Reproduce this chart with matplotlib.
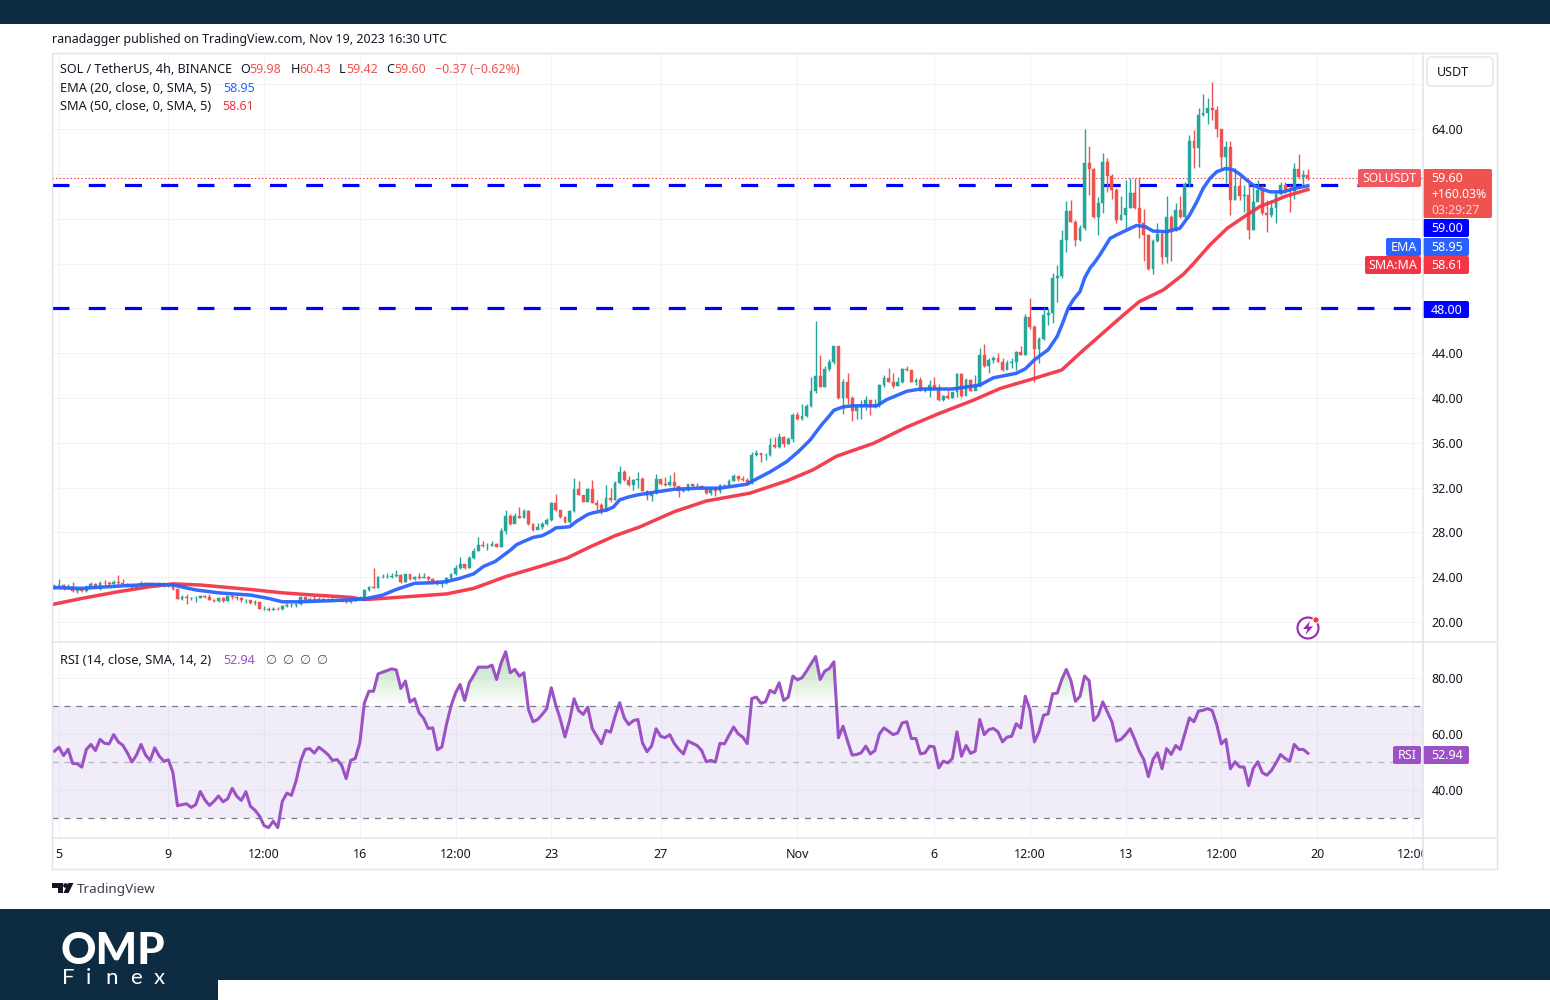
import numpy as np
import matplotlib
matplotlib.use("Agg")
import matplotlib.pyplot as plt
from matplotlib.patches import Rectangle, FancyBboxPatch, Circle, Polygon
from matplotlib.transforms import Bbox, TransformedBbox

plt.rcParams['font.family'] = ['Noto Sans', 'DejaVu Sans']
plt.rcParams['lines.scale_dashes'] = False

# ---------- data ----------
first_open = 23.1
closes = [23.2,23.3,23.0,23.15,22.75,22.85,22.8,23.15,23.35,23.15,23.5,23.45,23.4,23.55,23.45,23.4,23.25,23.05,23.25,23.45,
23.35,23.15,23.4,23.2,23.35,23.25,22.9,22.05,22.2,22.1,22.1,22.15,22.3,22.25,22.0,21.9,22.1,21.85,22.3,22.2,
22.1,21.95,21.95,21.7,21.75,21.2,21.2,21.1,21.2,21.15,21.4,21.5,21.5,21.6,22.2,22.0,22.05,22.0,22.05,22.0,
21.95,21.95,22.0,21.95,21.8,21.9,22.0,22.1,22.85,23.15,23.05,24.0,24.05,24.05,24.1,24.2,23.6,24.25,23.8,24.0,
23.95,24.05,23.8,23.7,23.35,23.45,23.9,24.29,24.8,25.18,24.8,25.7,26.3,26.9,26.8,26.8,27.0,26.7,28.1,29.5,
28.75,29.5,29.3,29.95,28.75,28.2,28.45,28.75,29.1,30.65,30.0,29.4,28.9,29.95,31.85,31.35,30.75,31.9,30.66,30.45,
30.0,31.05,30.9,32.45,33.4,32.7,32.2,32.7,32.8,31.7,31.25,31.55,32.75,32.3,32.2,32.5,32.1,31.7,31.75,32.3,
32.15,32.15,32.0,31.55,31.9,31.7,32.25,32.2,32.6,33.0,32.75,32.7,32.4,34.9,35.05,34.9,34.95,35.8,35.6,36.55,
35.9,36.3,38.5,38.1,38.4,39.3,40.65,41.95,41.0,42.55,43.2,44.6,39.97,41.4,40.0,38.87,39.2,39.37,39.8,39.2,
39.35,41.15,41.8,41.45,41.1,41.4,42.55,42.5,41.45,41.6,40.6,40.7,41.15,40.9,39.8,40.15,40.0,40.5,42.1,40.15,
41.6,40.65,41.15,43.85,42.85,43.4,43.55,43.25,42.5,43.15,43.2,44.1,43.85,47.2,46.3,44.35,45.3,47.4,47.6,50.7,
50.85,54.1,56.7,55.75,54.1,55.2,60.95,60.45,56.2,57.4,61.1,59.85,58.55,55.9,56.3,57.0,58.3,57.0,55.6,54.55,
51.5,54.05,54.6,52.6,56.2,55.0,56.8,56.2,59.1,62.95,62.35,65.25,65.4,65.9,65.7,64.0,61.55,62.4,57.7,58.9,
58.05,58.1,55.0,57.5,58.55,56.5,56.3,57.0,58.25,59.0,58.55,58.5,60.45,59.75,59.9,59.6]
highs = [23.35,23.85,23.4,23.35,23.55,23.0,23.0,23.3,23.55,23.45,23.7,23.75,23.7,23.75,24.2,23.85,23.45,23.35,23.4,23.65,
23.5,23.4,23.5,23.55,23.6,23.45,23.3,22.9,22.4,22.5,22.2,22.3,22.4,22.4,22.5,22.05,22.25,22.2,22.35,22.4,
22.35,22.2,22.05,22.0,21.95,21.75,21.4,21.3,21.35,21.35,21.5,21.65,21.7,21.7,22.3,22.25,22.2,22.4,22.2,22.15,
22.1,22.3,22.1,22.1,22.0,22.0,22.1,22.3,22.9,23.25,24.8,24.1,24.3,24.4,24.4,24.6,24.25,24.3,24.3,24.1,
24.35,24.35,24.1,23.9,23.75,23.55,24.0,24.35,25.1,25.8,25.2,25.9,26.6,27.55,27.2,27.05,27.2,27.05,28.35,30.0,
29.6,29.7,30.3,30.05,30.0,28.8,28.8,28.9,29.25,30.7,31.4,30.0,29.5,30.0,32.85,32.55,31.35,32.0,32.7,30.9,
30.6,32.25,31.95,32.6,33.95,33.6,33.0,32.75,33.35,32.9,31.75,31.6,33.2,32.8,32.9,33.1,33.35,32.1,32.0,32.35,
32.35,32.4,32.2,32.05,32.0,32.0,32.3,32.35,32.75,33.25,33.0,33.05,32.85,35.2,35.35,35.1,35.1,36.4,36.55,36.9,
36.6,36.55,38.65,38.75,39.5,39.5,41.85,46.87,43.8,42.85,43.45,44.65,44.55,41.7,42.2,40.2,39.3,39.8,40.2,39.85,
39.95,41.25,42.05,42.7,42.25,41.9,42.65,42.85,42.5,41.75,41.85,41.0,41.6,41.85,41.25,40.3,40.75,40.55,42.2,42.2,
41.75,41.7,42.05,44.45,44.8,43.55,43.75,44.0,43.55,43.35,43.55,44.15,44.65,47.5,48.9,46.5,45.4,48.0,48.0,51.2,
51.9,55.0,57.6,57.7,55.9,55.45,64.0,62.5,60.5,57.9,61.85,61.4,60.0,58.75,58.05,59.45,59.6,59.6,59.75,56.9,
54.6,54.2,55.6,55.0,58.0,56.3,57.4,58.0,59.3,63.5,63.9,65.85,67.1,66.75,68.25,66.1,63.9,62.9,62.9,60.5,
59.75,59.0,59.15,59.0,59.45,59.0,57.7,57.7,58.55,59.3,59.3,59.0,61.0,61.8,60.35,60.43]
lows = [22.95,23.0,22.85,22.95,22.65,22.6,22.65,22.7,23.1,23.05,22.85,23.3,23.3,23.35,23.3,23.35,23.2,23.0,23.05,23.2,
23.2,23.1,23.1,23.1,23.15,23.15,22.85,22.05,22.0,21.6,21.95,21.8,22.1,22.15,21.95,21.8,21.8,21.75,21.85,22.05,
22.0,21.8,21.65,21.6,21.55,21.15,21.05,20.95,21.05,21.05,21.05,21.35,21.35,21.3,21.5,21.9,21.9,21.9,21.95,21.9,
21.85,21.85,21.9,21.8,21.7,21.7,21.85,21.95,22.0,22.8,23.0,23.0,23.9,23.9,23.95,24.0,23.5,23.6,23.75,23.75,
23.85,23.9,23.7,23.6,23.3,23.15,23.4,23.85,24.2,24.75,24.7,24.8,25.6,26.3,26.7,26.4,26.75,26.65,26.7,27.85,
28.7,28.9,29.25,29.25,28.7,28.1,28.3,28.3,28.65,29.05,29.9,29.3,28.85,28.85,29.85,31.3,30.7,30.9,30.6,30.0,
29.6,29.95,30.75,30.9,32.3,32.6,32.15,31.75,31.95,31.65,30.9,30.8,31.45,32.25,32.1,32.15,32.05,31.2,31.6,31.7,
32.05,32.0,31.9,31.45,31.35,31.25,31.5,32.1,32.15,32.55,32.6,32.55,32.3,32.3,34.85,34.25,34.5,34.8,35.55,35.55,
35.6,35.85,36.1,38.0,38.0,38.3,39.2,40.4,40.95,41.0,42.4,43.0,39.95,38.6,39.5,37.95,38.1,38.1,38.9,38.5,
39.1,39.2,41.0,41.4,40.85,41.1,41.3,42.4,41.4,41.15,40.6,40.5,40.1,40.85,39.75,39.75,39.95,40.0,40.1,40.1,
40.7,40.6,40.75,41.0,42.8,42.25,43.1,43.2,42.45,42.6,42.7,42.5,43.8,43.8,46.2,41.4,43.1,45.2,46.5,46.65,
48.6,50.7,53.05,55.7,53.6,54.05,55.0,58.15,56.1,54.55,56.5,58.4,57.8,55.6,55.9,55.15,57.0,56.9,54.25,52.25,
51.4,51.1,53.9,52.0,52.05,52.2,54.9,56.1,56.1,58.85,60.5,60.65,65.2,64.5,64.8,63.3,60.5,59.2,56.35,57.7,
57.7,56.6,54.2,55.0,58.0,56.3,54.8,56.2,55.6,58.1,58.3,56.6,57.8,59.6,58.9,59.42]
rsi = [53.7,55.1,52.1,54.4,49.3,49.2,48,54.3,56.1,53.9,57.9,56.5,56.3,59.6,57,55.8,53.1,49.8,52.3,56.1,
52.3,50.4,54.9,51.9,50.1,50.6,46,34.2,34.6,34.9,33.6,34.6,39.3,36.3,34.3,35.8,37.7,35.6,36.7,40.4,
37.6,36.1,39.2,34,32.6,30.5,27.1,26.4,28.7,26.4,35.8,38.7,37.9,43,50.1,54.3,54.6,53,55.1,53.9,
52.5,50.4,50.7,48.7,43.9,50.4,51.1,56.7,71,75.1,75.1,81.3,81.9,82.5,83.1,82.7,76.1,78.7,71.2,72.4,
67.4,65.4,61.8,62,54.2,55.2,63.2,69.8,74.5,77.5,71.8,78.1,80.8,83.7,83.7,83.7,84.4,79.3,85.2,89.2,
81.7,82.9,80.5,81.7,68.6,
64.2,65,66.8,68.9,76.3,70.1,65,58.8,64.6,72.4,68.2,66.8,69.4,61.7,59,56.3,61.1,60.5,66.2,71,
65.6,63.2,64.6,65,56.7,53.5,55.5,61.7,59,58.5,59.6,56.4,54.3,52.7,57.3,56.5,55.7,53.9,49.9,50.4,
49.8,56.5,56.3,59.4,62.3,59.9,58.7,56.4,72.5,73,70.8,71.3,75.4,74.5,78.1,71.8,73,80.5,79.2,79.9,
82.3,84.9,87.5,79.3,82.3,83.2,85.6,58.5,62.6,57.3,52.3,52.5,53.1,55.5,52.7,53.9,59.9,62,60.8,59.6,
60.2,63.8,64.2,58.2,58.2,52.7,
53.1,55.5,55.2,47.7,50.1,49.5,51.1,60.6,51.9,55.7,52.9,53.7,65,59.6,61.4,61.8,60.6,57,58.7,59,
63.5,62,73.3,68.6,57,60.6,66.5,67,74.2,74.4,79.3,82.9,78.9,71.5,73.3,80.5,78.9,64.6,66.5,71.3,
67.7,64.2,57.3,57.9,59.6,61.7,57.9,53.7,50.7,44.6,50.7,53.1,47.4,54.6,52.5,55.7,54.3,59.9,65.6,64.2,
68,68.3,68.9,68.2,63.2,56.3,57.9,47.4,49.9,48.1,48,41.4,47.5,49.9,46,45.1,46.8,49.5,52.5,51.1,
50.1,56.1,54.3,54.3,52.94]
ema_k = [-1,5,13,20,25,30,35,42,46,49,53,60,67,71,74,78,82,85,88,91,93.1,95.7,97.5,99,100.4,102,104,106,107.7,109,110.6,112,113.6,116,117.2,120.2,121.6,123,124.9,127,130,135,140.7,145,151,152.7,156,159.6,162.2,164.8,167.3,168.8,170,172,174,179.4,181.6,186,189,196,202,205,210,212,214,215.3,217,218,219,220.2,221.4,222.5,224,225,226.2,227.3,228.4,230.6,232,234.3,236.4,238.3,240,243,245.9,248,249.6,251,252.5,254,256,257.7,259,260.6,262,263.9,265.7,268.6,271,274]
ema = [23.06,23.0,23.2,23.36,23.3,22.86,22.6,22.4,22.1,21.8,21.8,21.9,22.05,22.4,22.9,23.45,23.5,23.6,23.9,24.3,24.95,25.4,25.95,26.4,26.9,27.2,27.55,27.7,28.05,28.4,28.45,28.5,29.0,29.6,29.75,30.0,30.25,30.9,31.15,31.35,31.55,31.85,31.95,31.95,32.3,32.7,33.4,34.3,35.2,36.25,37.6,38.3,38.9,39.2,39.3,39.3,39.85,40.6,40.8,40.8,41.15,41.8,42.2,42.6,43.4,43.8,44.3,44.9,45.5,46.7,48.0,48.75,49.5,50.7,51.6,52.15,52.8,54.25,54.55,55.0,55.4,55.3,54.9,54.85,55.15,56.3,57.5,58.7,59.6,60.2,60.5,60.35,60.0,59.45,59.0,58.65,58.4,58.4,58.7,58.95]
sma_k = [-1,5,13,20,25,31,42,49,56,64,67,71,78,85,91,98,105.5,111.4,116.5,122,127.5,135,142,151.6,159.7,165.5,170.6,178.7,186,193,200.6,206.5,214,220,224,233.5,237,242.3,246.7,248.9,252.5,256.3,260.6,263.5,266.4,269,274]
sma = [21.6,22.1,22.7,23.15,23.4,23.3,22.9,22.6,22.4,22.2,22.0,22.1,22.3,22.5,23.0,24.05,24.95,25.7,26.7,27.7,28.5,29.85,30.8,31.5,32.6,33.6,34.8,35.95,37.4,38.6,39.8,40.85,41.75,42.5,44.0,47.4,48.6,49.65,51.05,52.0,53.66,55.15,56.34,57.1,57.55,58.0,58.61]
support_levels = [59.0, 48.0]
last_price = 59.6
price_ticks = [20,24,28,32,36,40,44,48,52,56,60,64,68]
price_labels = ['20.00','24.00','28.00','32.00','36.00','40.00','44.00','','','','','64.00','']
rsi_ticks = [40,60,80]
rsi_labels = ['40.00','60.00','80.00']
time_ticks = [0,24,45,66,87,108,132,162,192,213,234,255,276,297]
time_labels = ['5','9','12:00','16','12:00','23','27','Nov','6','12:00','13','12:00','20','12:00']

assert len(closes) == 276 and len(highs) == 276 and len(lows) == 276 and len(rsi) == 276, (len(closes), len(highs), len(lows), len(rsi))
assert len(ema_k) == len(ema) and len(sma_k) == len(sma), (len(ema_k), len(ema), len(sma_k), len(sma))

k = np.arange(-1, 275)
c = np.array(closes); h = np.array(highs); l = np.array(lows); r = np.array(rsi)
o = np.r_[first_open, c[:-1]]

# ---------- colours ----------
NAVY = '#0e2c41'; UP = '#26a69a'; DOWN = '#ef5350'; GRID = '#f2f3f7'; BORDER = '#e0e3eb'; TXT = '#131722'
BLUE = '#2962ff'; RED = '#f23645'; PURPLE = '#9c51c4'; LEVEL = '#0000ff'

W, H = 1550, 1000
fig = plt.figure(figsize=(W/100, H/100), dpi=100, facecolor='white')
def pane(x0, y0, x1, y1):
    return fig.add_axes([x0/W, 1-y1/H, (x1-x0)/W, (y1-y0)/H])

ax = pane(52, 53, 1423, 642)
ax2 = pane(52, 642, 1423, 838)
xlim = (-1.536, 299.25)

for a in (ax, ax2):
    a.set_xlim(*xlim)
    for s in a.spines.values():
        s.set_visible(False)
    a.set_xticks(time_ticks)
    a.grid(True, color=GRID, lw=0.8, zorder=0)
    a.set_axisbelow(True)
    a.yaxis.tick_right()
    a.tick_params(length=0, labelsize=9.0, labelcolor=TXT, pad=6)

# price pane
ax.set_ylim(18.21, 70.8)
ax.set_yticks(price_ticks); ax.set_yticklabels(price_labels)
ax.set_xticklabels([])
for lv in support_levels:
    ax.axhline(lv, color=LEVEL, lw=2.3, dashes=(12.2, 13.9), dash_capstyle='butt', zorder=2)
ax.axhline(last_price, color=RED, lw=0.8, dashes=(1, 1.6), zorder=2)
col = [UP if cc >= oo else DOWN for cc, oo in zip(c, o)]
ax.vlines(k, l, h, colors=col, lw=1.0, zorder=3)
ax.bar(k, np.abs(c-o), bottom=np.minimum(c, o), width=0.62, color=col, edgecolor=col, lw=0.3, zorder=3.5)
ax.plot(sma_k, sma, color=RED, lw=2.5, zorder=4, solid_joinstyle='round', alpha=0.95)
ax.plot(ema_k, ema, color=BLUE, lw=2.5, zorder=5, solid_joinstyle='round', alpha=0.95)

# rsi pane
ax2.set_ylim(22.68, 92.68)
ax2.set_yticks(rsi_ticks); ax2.set_yticklabels(rsi_labels)
ax2.set_xticklabels(time_labels)
ax2.tick_params(axis='x', pad=7)
clip = TransformedBbox(Bbox([[0, 0], [1423/W, 1]]), fig.transFigure)
for t in ax2.get_xticklabels():
    t.set_clip_box(clip); t.set_clip_on(True)
ax2.axhspan(30, 70, color='#7e57c2', alpha=0.105, lw=0, zorder=1)
for lv, cl in ((70, '#787b86'), (50, '#b4b6c0'), (30, '#787b86')):
    ax2.axhline(lv, color=cl, lw=0.9, dashes=(4.3, 4.3), zorder=2)
poly = ax2.fill_between(k, 70, np.maximum(r, 70), color='none', lw=0)
grad = np.zeros((64, 2, 4))
grad[..., 0] = 0.30; grad[..., 1] = 0.69; grad[..., 2] = 0.31
grad[..., 3] = np.linspace(0.42, 0, 64)[:, None]
im = ax2.imshow(grad, extent=(xlim[0], xlim[1], 70, 90), origin='upper', aspect='auto', zorder=2.5)
im.set_clip_path(poly.get_paths()[0], transform=ax2.transData)
ax2.set_xlim(*xlim); ax2.set_ylim(22.68, 92.68)
ax2.plot(k, r, color=PURPLE, lw=2.2, zorder=3, solid_joinstyle='round')

# ---------- chrome overlay in pixel coordinates ----------
ov = fig.add_axes([0, 0, 1, 1], zorder=10)
ov.set_xlim(0, W); ov.set_ylim(H, 0); ov.axis('off'); ov.patch.set_alpha(0)
def rect(x0, y0, x1, y1, fc, **kw):
    ov.add_patch(Rectangle((x0, y0), x1-x0, y1-y0, fc=fc, ec='none', **kw))
def box(x0, y0, x1, y1, fc):
    ov.add_patch(FancyBboxPatch((x0+1.5, y0+1.5), x1-x0-3, y1-y0-3, boxstyle='round,pad=1.5,rounding_size=2', fc=fc, ec='none'))
def txt(x, y, s, color=TXT, size=9.0, ha='left', **kw):
    return ov.text(x, y, s, color=color, fontsize=size, ha=ha, va='center', **kw)

rect(0, 0, W, 24, NAVY)
rect(0, 909, W, H, NAVY)
rect(218, 980, W, H, 'white')

ov.add_patch(Rectangle((52, 53), 1445, 816, fc='none', ec=BORDER, lw=1))
ov.plot([52, 1497], [642, 642], color=BORDER, lw=1.1)
ov.plot([52, 1497], [838, 838], color=BORDER, lw=1.1)
ov.plot([1423, 1423], [53, 869], color=BORDER, lw=1.1)

txt(52, 40, 'ranadagger published on TradingView.com, Nov 19, 2023 16:30 UTC', size=8.95)
# legend rows
txt(60, 69.5, 'SOL / TetherUS, 4h, BINANCE', size=9.05)
xs = [(240, 'O', TXT), (249, '59.98', DOWN), (291, 'H', TXT), (299, '60.43', DOWN), (339, 'L', TXT), (346, '59.42', DOWN),
      (386, 'C', TXT), (394, '59.60', DOWN), (435, '\u22120.37 (\u22120.62%)', DOWN)]
for x, s, cl in xs:
    txt(x, 69.5, s, color=cl)
txt(60, 88, 'EMA (20, close, 0, SMA, 5)', size=9.2)
txt(223, 88, '58.95', color=BLUE)
txt(60, 106.5, 'SMA (50, close, 0, SMA, 5)', size=9.2)
txt(222, 106.5, '58.61', color=RED)
txt(60, 660, 'RSI (14, close, SMA, 14, 2)', size=9.2)
txt(223, 660, '52.94', color=PURPLE)
for x in (265, 282, 299, 316):
    txt(x, 660, '\u2205', color='#50535e')

# right-hand tags
ov.add_patch(FancyBboxPatch((1428, 58), 64, 27, boxstyle='round,pad=1,rounding_size=4', fc='white', ec=BORDER, lw=1))
txt(1437, 72, 'USDT')
box(1358, 169, 1421, 187, '#f0595f')
txt(1389.5, 178.5, 'SOLUSDT', color='white', ha='center', size=8.8)
box(1423, 169, 1492, 218, '#ef5350')
txt(1431, 179, '59.60', color='white')
txt(1431, 194.5, '+160.03%', color='white', size=8.8)
txt(1431, 210, '03:29:27', color='#fbd5d5', size=8.8)
box(1423, 219, 1469, 237, LEVEL)
txt(1431, 228.5, '59.00', color='white')
box(1386, 238, 1421, 256, BLUE); box(1423, 238, 1469, 256, BLUE)
txt(1403.5, 247.5, 'EMA', color='white', ha='center')
txt(1431, 247.5, '58.95', color='white')
box(1365, 256, 1421, 274, RED); box(1423, 256, 1469, 274, RED)
txt(1393, 265.5, 'SMA:MA', color='white', ha='center')
txt(1431, 265.5, '58.61', color='white')
box(1423, 301, 1469, 318, LEVEL)
txt(1431, 310, '48.00', color='white')
box(1393, 746, 1421, 764, PURPLE); box(1423, 746, 1469, 764, PURPLE)
txt(1407, 755.5, 'RSI', color='white', ha='center')
txt(1431, 755.5, '52.94', color='white')

# lightning badge
ov.add_patch(Circle((1308, 628), 10.5, fc='white', ec='#9c27b0', lw=1.5))
ov.add_patch(Polygon([(1310, 621), (1303, 629), (1307.5, 629), (1305.5, 635), (1313, 626.5), (1308.5, 626.5)], fc='#9c27b0', ec='none'))
ov.add_patch(Circle((1316, 620), 3.2, fc=RED, ec='white', lw=0.8))

# TradingView mark and text
ov.add_patch(Polygon([(52, 883), (63, 883), (63, 893), (58, 893), (58, 888), (52, 888)], fc=TXT, ec='none'))
ov.add_patch(Circle((65.5, 885.5), 2.3, fc=TXT, ec='none'))
ov.add_patch(Polygon([(68, 883), (73.5, 883), (68.5, 893), (63.5, 893)], fc=TXT, ec='none'))
txt(77, 889, 'TradingView', color='#3a3e4a', size=9.7)

# OMP Finex logo
ov.text(61, 950.5, 'OMP', color='white', fontsize=31.5, fontweight='black', family='Lato', ha='left', va='center')
for x, s in zip((62.5, 85.5, 105, 130, 154), 'Finex'):
    ov.text(x, 977.5, s, color='white', fontsize=16, family='Lato', fontweight='normal', ha='left', va='center')

fig.savefig('out.png', dpi=100, facecolor='white')
